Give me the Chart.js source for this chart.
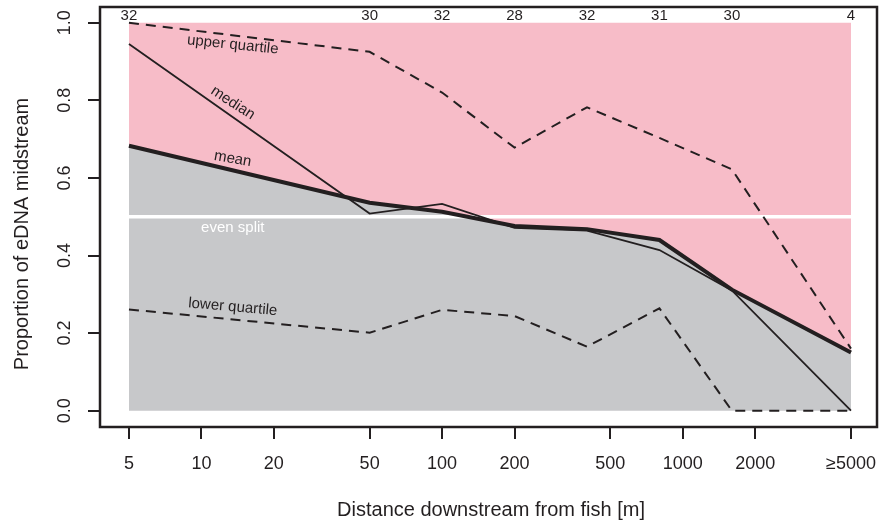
<!DOCTYPE html>
<html>
<head>
<meta charset="utf-8">
<script src="https://cdn.jsdelivr.net/npm/chart.js@4"></script>
<style>
  html, body { margin: 0; padding: 0; background: #fff; }
  canvas { display: block; }
</style>
</head>
<body>
<canvas id="chart" width="882" height="527"></canvas>
<script>
// -------------------------------
// Data
// -------------------------------
const distances = [5, 50, 100, 200, 400, 800, 1600, 5000];
const counts = [32, 30, 32, 28, 32, 31, 30, 4];

const upperQuartile = [1.0, 0.925, 0.82, 0.678, 0.782, 0.703, 0.622, 0.16];
const median = [0.945, 0.508, 0.533, 0.471, 0.464, 0.414, 0.31, 0.0];
const mean = [0.683, 0.536, 0.513, 0.476, 0.468, 0.44, 0.312, 0.15];
const lowerQuartile = [0.261, 0.201, 0.26, 0.244, 0.165, 0.264, 0.0, 0.0];
const evenSplit = 0.5;

const xTicks = [5, 10, 20, 50, 100, 200, 500, 1000, 2000, 5000];
const yTicks = [0, 0.2, 0.4, 0.6, 0.8, 1.0];

// -------------------------------
// Helpers / styles
// -------------------------------
const FONT = "'Liberation Sans', Arial, Helvetica, sans-serif";
const INK = "#231f20";
const PINK = "#f7bcc8";
const GREY = "#c7c8ca";

const pts = (arr) => arr.map((v, i) => ({ x: distances[i], y: v }));
const flat = (v) => distances.map((d) => ({ x: d, y: v }));

// label placement for the in-plot notes (data units + angle)
const notes = [
  { text: "upper quartile", x: 13.5, y: 0.943, angle: 6, color: INK },
  { text: "median", x: 13.5, y: 0.793, angle: 33, color: INK },
  { text: "mean", x: 13.5, y: 0.649, angle: 10, color: INK },
  { text: "even split", x: 13.5, y: 0.471, angle: 0, color: "#ffffff" },
  { text: "lower quartile", x: 13.5, y: 0.267, angle: 5, color: INK },
];

// -------------------------------
// Extra drawing: frame, notes, counts, y labels, titles
// -------------------------------
const extras = {
  id: "extras",
  afterDatasetsDraw(chart) {
    const { ctx, scales } = chart;
    const xs = scales.x, ys = scales.y;
    ctx.save();
    ctx.font = "15px " + FONT;
    ctx.textAlign = "center";
    ctx.textBaseline = "middle";
    notes.forEach((n) => {
      ctx.save();
      ctx.translate(xs.getPixelForValue(n.x), ys.getPixelForValue(n.y));
      ctx.rotate((n.angle * Math.PI) / 180);
      ctx.fillStyle = n.color;
      ctx.fillText(n.text, 0, 0);
      ctx.restore();
    });
    ctx.restore();
  },
  afterDraw(chart) {
    const { ctx, chartArea, scales } = chart;
    const xs = scales.x, ys = scales.y;
    ctx.save();

    // box
    ctx.strokeStyle = INK;
    ctx.lineWidth = 2.5;
    ctx.strokeRect(chartArea.left, chartArea.top, chartArea.right - chartArea.left, chartArea.bottom - chartArea.top);

    // sample counts along the top
    ctx.fillStyle = INK;
    ctx.font = "15px " + FONT;
    ctx.textAlign = "center";
    ctx.textBaseline = "middle";
    const yTop = ys.getPixelForValue(1.0) - 7;
    counts.forEach((c, i) => {
      ctx.fillText(String(c), xs.getPixelForValue(distances[i]), yTop);
    });

    // y tick labels, rotated like R
    ctx.font = "18px " + FONT;
    yTicks.forEach((v) => {
      ctx.save();
      ctx.translate(65, ys.getPixelForValue(v));
      ctx.rotate(-Math.PI / 2);
      ctx.fillText(v.toFixed(1), 0, 0);
      ctx.restore();
    });

    // axis titles
    ctx.font = "20px " + FONT;
    ctx.fillText("Distance downstream from fish [m]", 491, 510);
    ctx.save();
    ctx.translate(22, 234);
    ctx.rotate(-Math.PI / 2);
    ctx.fillText("Proportion of eDNA midstream", 0, 0);
    ctx.restore();

    ctx.restore();
  },
};

// -------------------------------
// Chart
// -------------------------------
const lineBase = { pointRadius: 0, tension: 0, fill: false, borderColor: INK };

new Chart(document.getElementById("chart"), {
  type: "line",
  data: {
    datasets: [
      // 0: top of the pink band, filled down to the mean
      { ...lineBase, data: flat(1.0), borderWidth: 0, borderColor: "rgba(0,0,0,0)", backgroundColor: PINK, fill: 1 },
      // 1: grey fill under the mean
      { ...lineBase, data: pts(mean), borderWidth: 0, borderColor: "rgba(0,0,0,0)", backgroundColor: GREY, fill: { value: 0 } },
      // median and mean
      { ...lineBase, data: pts(mean), borderWidth: 4 },
      { ...lineBase, data: pts(median), borderWidth: 1.8 },
      // quartiles
      { ...lineBase, data: pts(upperQuartile), borderWidth: 2, borderDash: [10, 7] },
      { ...lineBase, data: pts(lowerQuartile), borderWidth: 2, borderDash: [10, 7] },
      // even split (drawn first, under the black lines)
      { ...lineBase, data: flat(evenSplit), borderColor: "#ffffff", borderWidth: 3.5 },
    ],
  },
  options: {
    responsive: false,
    animation: false,
    devicePixelRatio: 1,
    layout: { padding: { top: 7, right: 5, left: 0, bottom: 0 } },
    plugins: {
      legend: { display: false },
      tooltip: { enabled: false },
      filler: { drawTime: "beforeDatasetsDraw" },
    },
    scales: {
      x: {
        type: "logarithmic",
        min: 3.79,
        max: 6413,
        afterBuildTicks: (s) => { s.ticks = xTicks.map((v) => ({ value: v })); },
        afterFit: (s) => { s.height = 100; s.paddingLeft = 0; s.paddingRight = 0; },
        grid: { display: true, drawOnChartArea: false, drawTicks: true, tickLength: 12, tickWidth: 2, tickColor: INK, lineWidth: 2 },
        border: { display: false },
        ticks: {
          autoSkip: false,
          maxRotation: 0,
          padding: 14,
          color: INK,
          font: { family: FONT, size: 18 },
          callback: (v) => (v === 5000 ? "≥5000" : String(v)),
        },
      },
      y: {
        type: "linear",
        min: -0.042,
        max: 1.0405,
        afterBuildTicks: (s) => { s.ticks = yTicks.map((v) => ({ value: v })); },
        afterFit: (s) => { s.width = 100; s.paddingTop = 0; s.paddingBottom = 0; },
        grid: { display: true, drawOnChartArea: false, drawTicks: true, tickLength: 12, tickWidth: 2, tickColor: INK, lineWidth: 2 },
        border: { display: false },
        ticks: { display: false },
      },
    },
  },
  plugins: [extras],
});
</script>
</body>
</html>
